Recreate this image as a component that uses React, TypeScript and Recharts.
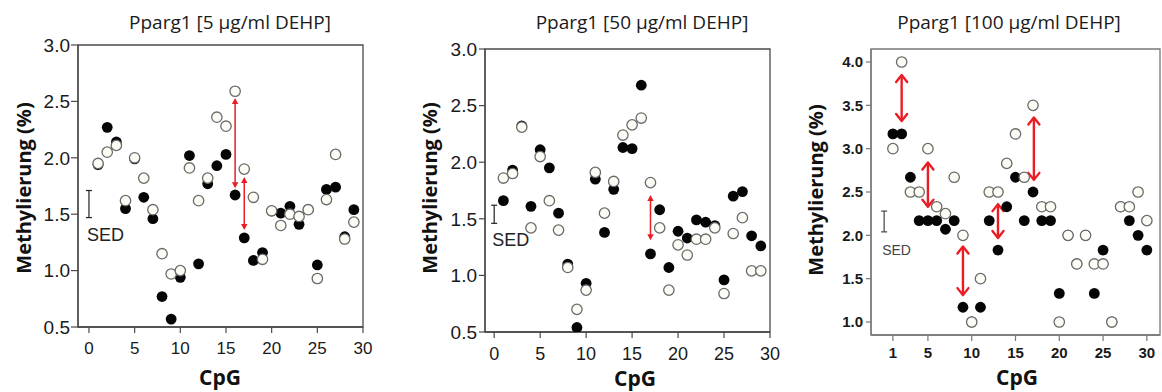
import React from 'react';
import { ScatterChart, Scatter, XAxis, YAxis, ReferenceLine, ReferenceArea } from 'recharts';

// CpG positions
const cpg29 = [1, 2, 3, 4, 5, 6, 7, 8, 9, 10, 11, 12, 13, 14, 15, 16, 17, 18, 19, 20, 21, 22, 23, 24, 25, 26, 27, 28, 29];
const cpg30 = [1, 2, 3, 4, 5, 6, 7, 8, 9, 10, 11, 12, 13, 14, 15, 16, 17, 18, 19, 20, 21, 22, 23, 24, 25, 26, 27, 28, 29, 30];

// 5 µg/ml DEHP
const p5Open = [1.95, 2.05, 2.11, 1.62, 2.0, 1.82, 1.54, 1.15, 0.97, 1.0, 1.91, 1.62, 1.82, 2.36, 2.28, 2.59, 1.9, 1.65, 1.1, 1.53, 1.4, 1.5, 1.48, 1.54, 0.93, 1.63, 2.03, 1.28, 1.43];
const p5Filled = [1.94, 2.27, 2.14, 1.55, 1.99, 1.65, 1.46, 0.77, 0.57, 0.94, 2.02, 1.06, 1.77, 1.93, 2.03, 1.67, 1.29, 1.09, 1.16, 1.53, 1.51, 1.57, 1.41, 1.54, 1.05, 1.72, 1.74, 1.3, 1.54];
const p5Arrows = [
  { cpg: 16, top: 2.53, bottom: 1.73 },
  { cpg: 17, top: 1.83, bottom: 1.36 },
];
const p5Sed = { cpg: 0, top: 1.71, bottom: 1.47 };

// 50 µg/ml DEHP
const p50Open = [1.86, 1.9, 2.31, 1.42, 2.05, 1.66, 1.4, 1.07, 0.7, 0.87, 1.91, 1.55, 1.83, 2.24, 2.33, 2.39, 1.82, 1.42, 0.87, 1.27, 1.18, 1.32, 1.32, 1.42, 0.84, 1.37, 1.51, 1.04, 1.04];
const p50Filled = [1.66, 1.93, 2.32, 1.61, 2.11, 1.95, 1.55, 1.1, 0.54, 0.93, 1.85, 1.38, 1.76, 2.13, 2.12, 2.68, 1.19, 1.58, 1.07, 1.39, 1.33, 1.49, 1.47, 1.44, 0.96, 1.7, 1.74, 1.35, 1.26];
const p50Arrows = [{ cpg: 17, top: 1.71, bottom: 1.31 }];
const p50Sed = { cpg: 0, top: 1.62, bottom: 1.46 };

// 100 µg/ml DEHP
const p100Open = [3.0, 4.0, 2.5, 2.5, 3.0, 2.33, 2.25, 2.67, 2.0, 1.0, 1.5, 2.5, 2.5, 2.83, 3.17, 2.67, 3.5, 2.33, 2.33, 1.0, 2.0, 1.67, 2.0, 1.67, 1.67, 1.0, 2.33, 2.33, 2.5, 2.17];
const p100Filled = [3.17, 3.17, 2.67, 2.17, 2.17, 2.17, 2.07, 2.17, 1.17, 1.0, 1.17, 2.17, 1.83, 2.33, 2.67, 2.17, 2.5, 2.17, 2.17, 1.33, 2.0, 1.67, 2.0, 1.33, 1.83, 1.0, 2.33, 2.17, 2.0, 1.83];
const p100Arrows = [
  { cpg: 2, top: 3.85, bottom: 3.32 },
  { cpg: 5, top: 2.84, bottom: 2.33 },
  { cpg: 9, top: 1.87, bottom: 1.31 },
  { cpg: 13, top: 2.36, bottom: 1.97 },
  { cpg: 17.1, top: 3.36, bottom: 2.64 },
];
const p100Sed = { cpg: 0, top: 2.28, bottom: 2.04 };

const xTicks30 = [0, 5, 10, 15, 20, 25, 30];
const xTicks1to30 = [1, 5, 10, 15, 20, 25, 30];
const yTicksLow = [0.5, 1.0, 1.5, 2.0, 2.5, 3.0];
const yTicksHigh = [1.0, 1.5, 2.0, 2.5, 3.0, 3.5, 4.0];

const SANS = '"Liberation Sans", Arial, sans-serif';
const TITLE_FONT = '"Open Sans", "Noto Sans", sans-serif';
const RED = '#ec1c24';

const OpenDot = (p: any) => (
  <circle cx={p.cx} cy={p.cy} r={5.2} fill="#fcfcf4" stroke="#6a6a6a" strokeWidth={1.3} />
);
const FilledDot = (p: any) => <circle cx={p.cx} cy={p.cy} r={5.4} fill="#050505" />;

// double headed arrow; solid small heads or open V heads
const arrowShape = (heavy: boolean) => (p: any) => {
  const { x1, y1, y2 } = p;
  const x = x1;
  const top = Math.min(y1, y2);
  const bot = Math.max(y1, y2);
  if (heavy) {
    const hw = 5.5;
    const hl = 7;
    return (
      <g stroke={RED} strokeWidth={2.4} fill="none" strokeLinecap="round" strokeLinejoin="round">
        <line x1={x} y1={top + 1} x2={x} y2={bot - 1} />
        <polyline points={`${x - hw},${top + hl} ${x},${top} ${x + hw},${top + hl}`} />
        <polyline points={`${x - hw},${bot - hl} ${x},${bot} ${x + hw},${bot - hl}`} />
      </g>
    );
  }
  const hw = 3.2;
  const hl = 6;
  return (
    <g>
      <line x1={x} y1={top + 3} x2={x} y2={bot - 3} stroke={RED} strokeWidth={1.5} />
      <polygon points={`${x - hw},${top + hl} ${x},${top} ${x + hw},${top + hl}`} fill={RED} />
      <polygon points={`${x - hw},${bot - hl} ${x},${bot} ${x + hw},${bot - hl}`} fill={RED} />
    </g>
  );
};

const sedShape = (fontSize: number, color: string) => (p: any) => {
  const { x1, y1, y2 } = p;
  const top = Math.min(y1, y2);
  const bot = Math.max(y1, y2);
  const cw = 3;
  return (
    <g>
      <g stroke={color} strokeWidth={1.2}>
        <line x1={x1} y1={top} x2={x1} y2={bot} />
        <line x1={x1 - cw} y1={top} x2={x1 + cw} y2={top} />
        <line x1={x1 - cw} y1={bot} x2={x1 + cw} y2={bot} />
      </g>
      <text x={x1 - 2} y={bot + 23} fontSize={fontSize} fontFamily={SANS} fill={color}>
        SED
      </text>
    </g>
  );
};

type Marker = { cpg: number; top: number; bottom: number };

type PanelProps = {
  left: number;
  width: number;
  margin: { top: number; right: number; bottom: number; left: number };
  title: string;
  titleX: number;
  yTitleX: number;
  yTitleY: number;
  xTitleX: number;
  xTitleY: number;
  cpg: number[];
  open: number[];
  filled: number[];
  arrows: Marker[];
  sed: Marker;
  xDomain: [number, number];
  xTicks: number[];
  yDomain: [number, number];
  yTicks: number[];
  xTickFont: number;
  yTickFont: number;
  tickBold: boolean;
  xTickMargin: number;
  yTickSize: number;
  yTickMargin: number;
  frame: string;
  heavyArrows: boolean;
  sedFont: number;
  sedColor: string;
};

const Panel = (props: PanelProps) => {
  const openPts = props.cpg.map((c, i) => ({ cpg: c, v: props.open[i] }));
  const filledPts = props.cpg.map((c, i) => ({ cpg: c, v: props.filled[i] }));
  const tickBase = {
    fontFamily: SANS,
    fill: '#1a1a1a',
    fontWeight: props.tickBold ? 'bold' : 'normal',
  };
  return (
    <div style={{ position: 'absolute', left: props.left, top: 0 }}>
      <ScatterChart width={props.width} height={392} margin={props.margin}>
        <ReferenceArea
          x1={props.xDomain[0]}
          x2={props.xDomain[1]}
          y1={props.yDomain[0]}
          y2={props.yDomain[1]}
          fill="none"
          stroke={props.frame}
          strokeWidth={1.3}
          fillOpacity={0}
          strokeOpacity={1}
        />
        <XAxis
          type="number"
          dataKey="cpg"
          domain={props.xDomain}
          ticks={props.xTicks}
          allowDataOverflow
          height={30}
          tickSize={6}
          tickMargin={props.xTickMargin}
          tick={{ ...tickBase, fontSize: props.xTickFont }}
          axisLine={{ stroke: props.frame, strokeWidth: 1.3 }}
          tickLine={{ stroke: props.frame, strokeWidth: 1.2 }}
        />
        <YAxis
          type="number"
          dataKey="v"
          domain={props.yDomain}
          ticks={props.yTicks}
          allowDataOverflow
          width={60}
          tickSize={props.yTickSize}
          tickMargin={props.yTickMargin}
          tick={{ ...tickBase, fontSize: props.yTickFont }}
          tickFormatter={(v: number) => v.toFixed(1)}
          axisLine={{ stroke: props.frame, strokeWidth: 1.3 }}
          tickLine={{ stroke: props.frame, strokeWidth: 1.2 }}
        />
        <ReferenceLine
          segment={[
            { x: props.sed.cpg, y: props.sed.top },
            { x: props.sed.cpg, y: props.sed.bottom },
          ]}
          shape={sedShape(props.sedFont, props.sedColor)}
        />
        <Scatter data={filledPts} shape={FilledDot} isAnimationActive={false} />
        <Scatter data={openPts} shape={OpenDot} isAnimationActive={false} />
        {props.arrows.map((a, i) => (
          <ReferenceLine
            key={i}
            segment={[
              { x: a.cpg, y: a.top },
              { x: a.cpg, y: a.bottom },
            ]}
            shape={arrowShape(props.heavyArrows)}
          />
        ))}
        <text
          x={props.titleX}
          y={29}
          textAnchor="middle"
          fontSize={19}
          fontFamily={TITLE_FONT}
          fill="#1a1a1a"
        >
          {props.title}
        </text>
        <text
          x={props.yTitleX}
          y={props.yTitleY}
          transform={`rotate(-90 ${props.yTitleX} ${props.yTitleY})`}
          textAnchor="middle"
          fontSize={20}
          fontWeight="bold"
          fontFamily={TITLE_FONT}
          fill="#111"
        >
          Methylierung (%)
        </text>
        <text
          x={props.xTitleX}
          y={props.xTitleY}
          textAnchor="middle"
          fontSize={21}
          fontWeight="bold"
          fontFamily={TITLE_FONT}
          fill="#111"
        >
          CpG
        </text>
      </ScatterChart>
    </div>
  );
}

export default function App() {
  return (
    <div style={{ position: 'absolute', left: 0, top: 0, width: 1162, height: 392, background: '#fff' }}>
      <Panel
        left={0}
        width={390}
        margin={{ top: 45, right: 27, bottom: 35, left: 18 }}
        title="Pparg1 [5 µg/ml DEHP]"
        titleX={230}
        yTitleX={31}
        yTitleY={188}
        xTitleX={220}
        xTitleY={385}
        cpg={cpg29}
        open={p5Open}
        filled={p5Filled}
        arrows={p5Arrows}
        sed={p5Sed}
        xDomain={[-1.2, 30]}
        xTicks={xTicks30}
        yDomain={[0.5, 3.0]}
        yTicks={yTicksLow}
        xTickFont={17}
        yTickFont={19}
        tickBold={false}
        xTickMargin={9}
        yTickSize={7}
        yTickMargin={1}
        frame="#4a4a4a"
        heavyArrows={false}
        sedFont={18}
        sedColor="#222"
      />
      <Panel
        left={390}
        width={390}
        margin={{ top: 49, right: 10, bottom: 30, left: 35 }}
        title="Pparg1 [50 µg/ml DEHP]"
        titleX={252}
        yTitleX={47}
        yTitleY={188}
        xTitleX={245}
        xTitleY={386}
        cpg={cpg29}
        open={p50Open}
        filled={p50Filled}
        arrows={p50Arrows}
        sed={p50Sed}
        xDomain={[-1.0, 30]}
        xTicks={xTicks30}
        yDomain={[0.5, 3.0]}
        yTicks={yTicksLow}
        xTickFont={18}
        yTickFont={19}
        tickBold={false}
        xTickMargin={9}
        yTickSize={6}
        yTickMargin={2}
        frame="#4a4a4a"
        heavyArrows={false}
        sedFont={18}
        sedColor="#222"
      />
      <Panel
        left={780}
        width={382}
        margin={{ top: 49, right: 2, bottom: 27, left: 31 }}
        title="Pparg1 [100 µg/ml DEHP]"
        titleX={229}
        yTitleX={43}
        yTitleY={190}
        xTitleX={237}
        xTitleY={385}
        cpg={cpg30}
        open={p100Open}
        filled={p100Filled}
        arrows={p100Arrows}
        sed={p100Sed}
        xDomain={[-1.5, 31.5]}
        xTicks={xTicks1to30}
        yDomain={[0.85, 4.15]}
        yTicks={yTicksHigh}
        xTickFont={15}
        yTickFont={15}
        tickBold={true}
        xTickMargin={6}
        yTickSize={5}
        yTickMargin={3}
        frame="#777"
        heavyArrows={true}
        sedFont={14}
        sedColor="#444"
      />
    </div>
  );
}
